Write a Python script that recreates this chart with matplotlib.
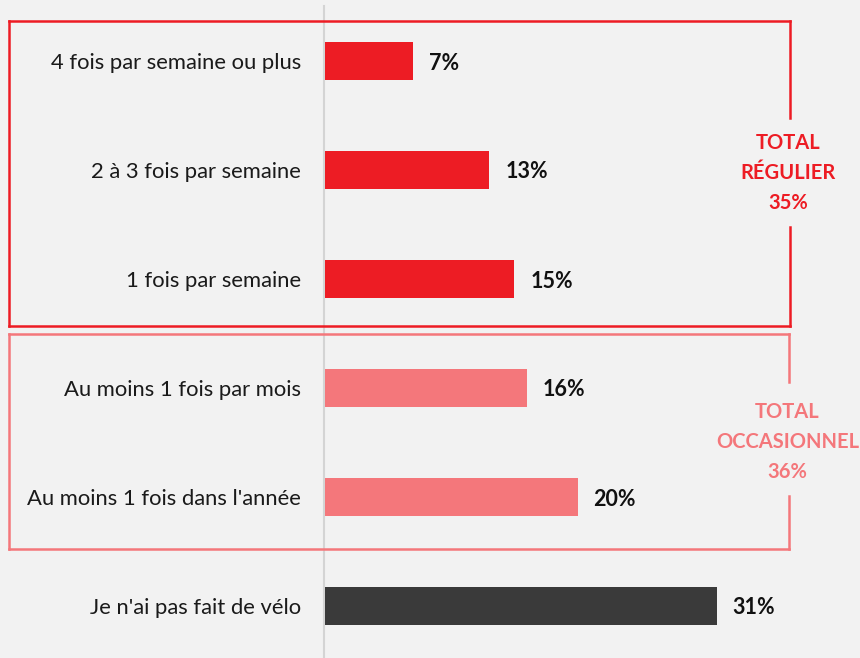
import matplotlib
matplotlib.use("Agg")
import matplotlib.pyplot as plt
from matplotlib.lines import Line2D

categories = ["4 fois par semaine ou plus", "2 à 3 fois par semaine", "1 fois par semaine",
              "Au moins 1 fois par mois", "Au moins 1 fois dans l'année", "Je n'ai pas fait de vélo"]
values = [7, 13, 15, 16, 20, 31]
value_labels = ["7%", "13%", "15%", "16%", "20%", "31%"]
groups = ["reg", "reg", "reg", "occ", "occ", "none"]
group_titles = {"reg": "TOTAL\nRÉGULIER\n35%", "occ": "TOTAL\nOCCASIONNEL\n36%"}

RED = "#ed1c24"
PINK = "#f4777b"
DARK = "#3a3a3a"
BG = "#f2f2f2"
colors = {"reg": RED, "occ": PINK, "none": DARK}

W, H = 860, 658
fig = plt.figure(figsize=(W / 100, H / 100), dpi=100, facecolor=BG)
ax = fig.add_axes([0, 0, 1, 1], facecolor=BG)

pxpp = 12.63  # pixels per percent
x0 = 325
ax.set_xlim(-x0 / pxpp, (W - x0) / pxpp)
row = 109
c0 = 61
ax.set_ylim((H - c0) / row, -c0 / row)
ax.axis("off")

font = "Lato"
ys = list(range(len(categories)))
ax.barh(ys, values, height=0.35, color=[colors[g] for g in groups], zorder=3)

dy = 2 / row
for y, cat, v, lab in zip(ys, categories, values, value_labels):
    ax.text(-24 / pxpp, y + dy, cat, ha="right", va="center", fontsize=15.8,
            family=font, color="#1a1a1a")
    ax.text(v + 16 / pxpp, y + dy, lab, ha="left", va="center", fontsize=15.5,
            family=font, fontweight="bold", color="#111111")

# axis line
ax.axvline(-1.5 / pxpp, ymin=0, ymax=1 - 6 / H, color="#d4d4d4", lw=1.5, zorder=1)

def fx(px):
    return px / W

def fy(py):
    return 1 - py / H

def box(left, top, right, bottom, gap_top, gap_bot, color, text, text_y):
    segs = [
        ([left, right], [top, top]),
        ([left, left], [top, bottom]),
        ([left, right], [bottom, bottom]),
        ([right, right], [top, gap_top]),
        ([right, right], [gap_bot, bottom]),
    ]
    for xs, yy in segs:
        fig.add_artist(Line2D([fx(x) for x in xs], [fy(y) for y in yy],
                              color=color, lw=1.8, solid_capstyle="projecting"))
    fig.text(fx(right - 1), fy(text_y), text, ha="center", va="center", color=color,
             fontsize=14.5, family=font, fontweight="bold", linespacing=1.6)

box(8.5, 20.5, 789.5, 325.5, 118, 227, RED, group_titles["reg"], 173)
box(8.5, 333.5, 788.5, 548.5, 382, 496, PINK, group_titles["occ"], 442)

fig.savefig("out.png", dpi=100, facecolor=BG)
